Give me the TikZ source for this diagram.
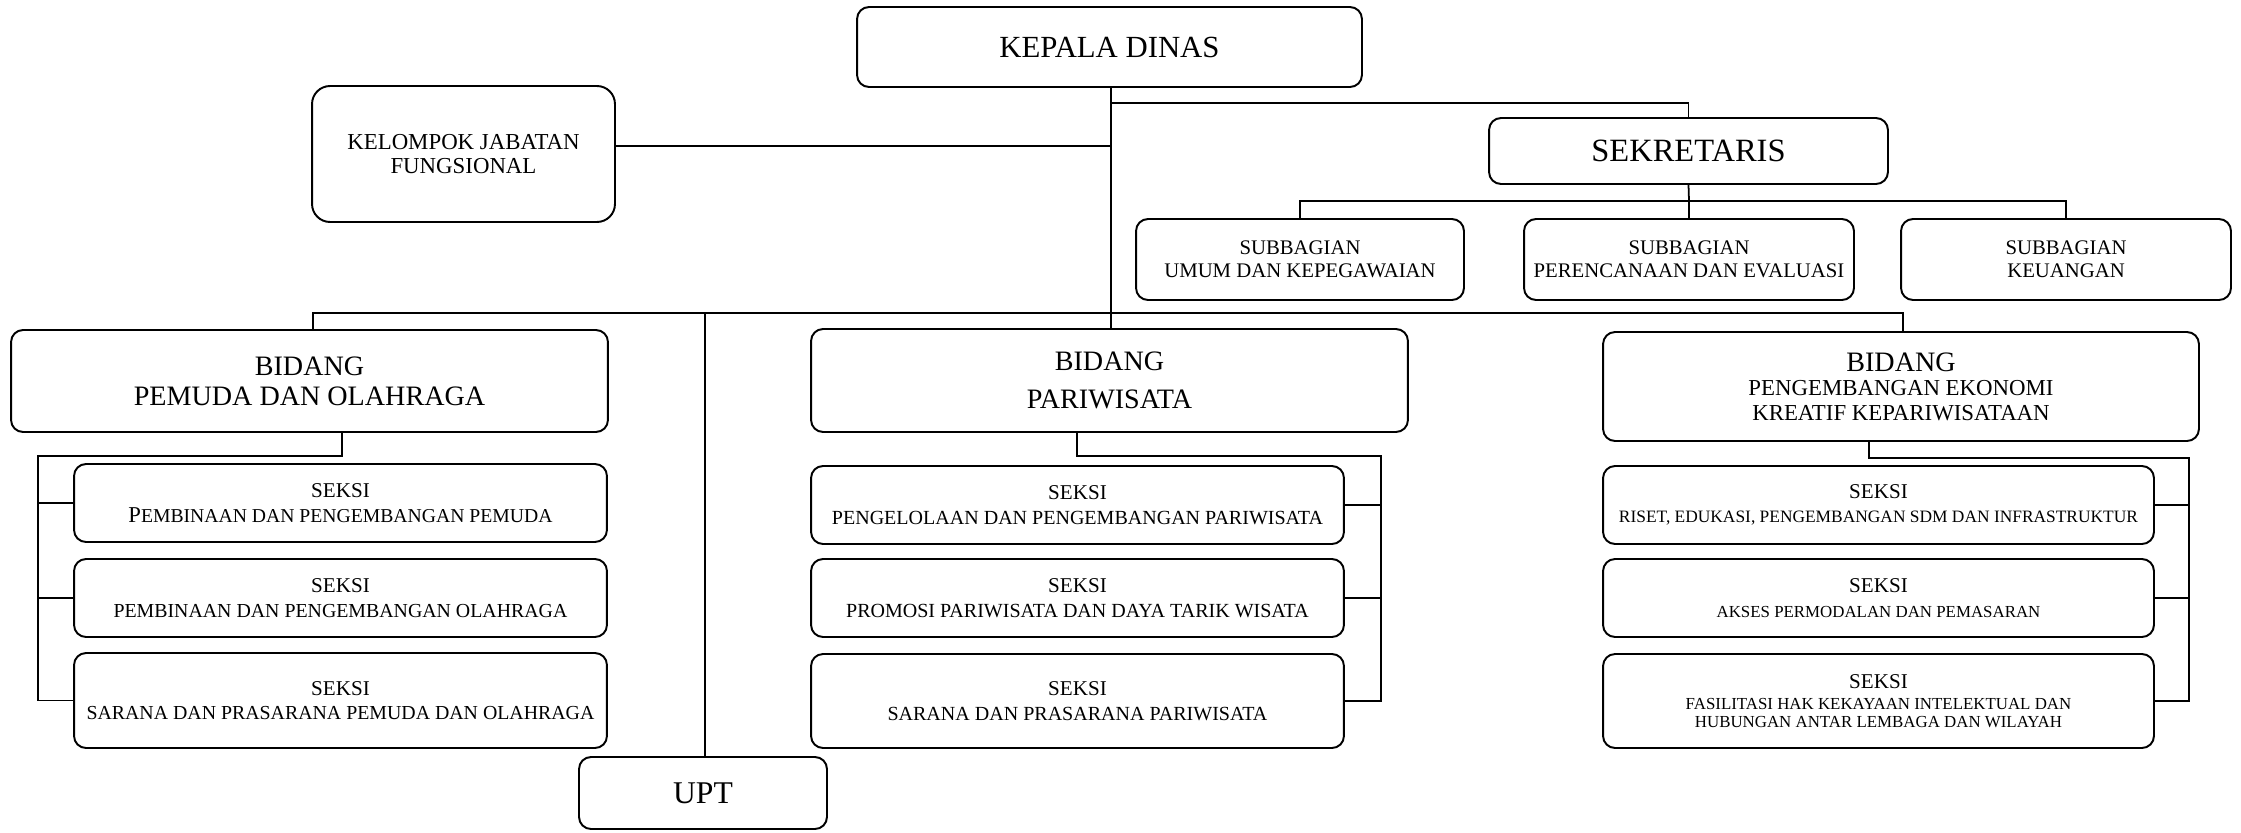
\documentclass[tikz,border=0pt]{standalone}
\usepackage{fontspec}
\setmainfont{Liberation Serif}
\newcommand\myfs[2]{\fontsize{#1}{#2}\selectfont}
\begin{document}
\begin{tikzpicture}[x=0.02cm,y=-0.02cm,
  box/.style={draw, line width=1.1pt, rounded corners=0.24cm, align=center, inner sep=0pt},
  conn/.style={line width=1pt},
  seksifont/.style={font=\myfs{12}{14}}]
\useasboundingbox (0,0) rectangle (2241,832);

% top level
\node[box, minimum width=10.10cm, minimum height=1.60cm, font=\myfs{17.5}{20}] (kd) at (1109.5,47) {KEPALA DINAS};
\node[box, rounded corners=0.36cm, minimum width=6.06cm, minimum height=2.72cm, font=\myfs{13}{14}] (kjf) at (463.5,154) {KELOMPOK JABATAN\\FUNGSIONAL};
\node[box, minimum width=7.98cm, minimum height=1.32cm, font=\myfs{18.5}{20}] (sek) at (1688.5,151) {SEKRETARIS};

% subbagian
\node[box, minimum width=6.56cm, minimum height=1.62cm, font=\myfs{11.8}{13}] (sb1) at (1300,259.5) {SUBBAGIAN\\UMUM DAN KEPEGAWAIAN};
\node[box, minimum width=6.60cm, minimum height=1.62cm, font=\myfs{11.8}{13}] (sb2) at (1689,259.5) {SUBBAGIAN\\PERENCANAAN DAN EVALUASI};
\node[box, minimum width=6.60cm, minimum height=1.62cm, font=\myfs{11.8}{13}] (sb3) at (2066,259.5) {SUBBAGIAN\\KEUANGAN};

% bidang
\node[box, minimum width=11.94cm, minimum height=2.04cm, font=\myfs{16}{17}] (b1) at (309.5,381) {BIDANG\\PEMUDA DAN OLAHRAGA};
\node[box, minimum width=11.94cm, minimum height=2.06cm, font=\myfs{16}{17}] (b2) at (1109.5,380.5) {BIDANG\\[5pt]PARIWISATA};
\node[box, minimum width=11.92cm, minimum height=2.18cm, font=\myfs{16}{14}] (b3) at (1901,386.5) {BIDANG\\{\myfs{13}{14}PENGEMBANGAN EKONOMI}\\{\myfs{13}{14}KREATIF KEPARIWISATAAN}};
\node[box, minimum width=4.96cm, minimum height=1.44cm, font=\myfs{18}{20}] (upt) at (703,793) {UPT};

% seksi pemuda
\node[box, seksifont, minimum width=10.66cm, minimum height=1.56cm] (p1) at (340.5,503) {SEKSI\\{\myfs{12.9}{14}P\myfs{11.2}{14}EMBINAAN DAN PENGEMBANGAN PEMUDA}};
\node[box, seksifont, minimum width=10.66cm, minimum height=1.56cm] (p2) at (340.5,598) {SEKSI\\{\myfs{11.3}{14}PEMBINAAN DAN PENGEMBANGAN OLAHRAGA}};
\node[box, seksifont, minimum width=10.66cm, minimum height=1.90cm] (p3) at (340.5,700.5) {SEKSI\\{\myfs{11.3}{14}SARANA DAN PRASARANA PEMUDA DAN OLAHRAGA}};

% seksi pariwisata
\node[box, seksifont, minimum width=10.66cm, minimum height=1.56cm] (w1) at (1077.5,505) {SEKSI\\{\myfs{11.4}{14}PENGELOLAAN DAN PENGEMBANGAN PARIWISATA}};
\node[box, seksifont, minimum width=10.66cm, minimum height=1.56cm] (w2) at (1077.5,598) {SEKSI\\{\myfs{11.4}{14}PROMOSI PARIWISATA DAN DAYA TARIK WISATA}};
\node[box, seksifont, minimum width=10.66cm, minimum height=1.88cm] (w3) at (1077.5,701) {SEKSI\\{\myfs{11.4}{14}SARANA DAN PRASARANA PARIWISATA}};

% seksi ekonomi
\node[box, seksifont, minimum width=11.02cm, minimum height=1.56cm] (e1) at (1878.5,505) {SEKSI\\{\myfs{9.9}{14}RISET, EDUKASI, PENGEMBANGAN SDM DAN INFRASTRUKTUR}};
\node[box, seksifont, minimum width=11.02cm, minimum height=1.56cm] (e2) at (1878.5,598) {SEKSI\\{\myfs{9.6}{14}AKSES PERMODALAN DAN PEMASARAN}};
\node[box, seksifont, minimum width=11.02cm, minimum height=1.88cm] (e3) at (1878.5,701) {SEKSI\\[-2pt]{\myfs{9.6}{11}FASILITASI HAK KEKAYAAN INTELEKTUAL DAN}\\[-4pt]{\myfs{9.6}{11}HUBUNGAN ANTAR LEMBAGA DAN WILAYAH}};

% junction coordinates
\coordinate (j1) at (1111,103);
\coordinate (sbus) at (1689,201);
\coordinate (bbus) at (1111,313);
\coordinate (p0) at (342,456);
\coordinate (prail) at (38,456);
\coordinate (w0) at (1077,456);
\coordinate (wrail) at (1381,456);
\coordinate (e0) at (1869,458);
\coordinate (erail) at (2189,458);

% connectors
\draw[conn] (kd.south -| bbus) -- (b2.north -| bbus);
\draw[conn] (j1) -| (sek.north);
\draw[conn] ([yshift=0.16cm]kjf.east) -- ([yshift=0.16cm]kjf.east -| bbus);
\draw[conn] (sek.south) -- (sbus);
\draw[conn] (sb1.north) -- (sb1.north |- sbus) -- (sb3.north |- sbus) -- (sb3.north);
\draw[conn] (sbus) -- (sb2.north);

\draw[conn] ([xshift=0.07cm]b1.north) -- ([xshift=0.07cm]b1.north |- bbus) -- ([xshift=0.04cm]b3.north |- bbus) -- ([xshift=0.04cm]b3.north);
\draw[conn] ([xshift=0.04cm]upt.north |- bbus) -- ([xshift=0.04cm]upt.north);

\draw[conn] (b1.south -| p0) -- (p0) -- (prail) -- (prail |- p3.west) -- (p3.west);
\draw[conn] (p1.west) -- (p1.west -| prail);
\draw[conn] (p2.west) -- (p2.west -| prail);

\draw[conn] (b2.south -| w0) -- (w0) -- (wrail) -- (wrail |- w3.east) -- (w3.east);
\draw[conn] (w1.east) -- (w1.east -| wrail);
\draw[conn] (w2.east) -- (w2.east -| wrail);

\draw[conn] (b3.south -| e0) -- (e0) -- (erail) -- (erail |- e3.east) -- (e3.east);
\draw[conn] (e1.east) -- (e1.east -| erail);
\draw[conn] (e2.east) -- (e2.east -| erail);
\end{tikzpicture}
\end{document}
